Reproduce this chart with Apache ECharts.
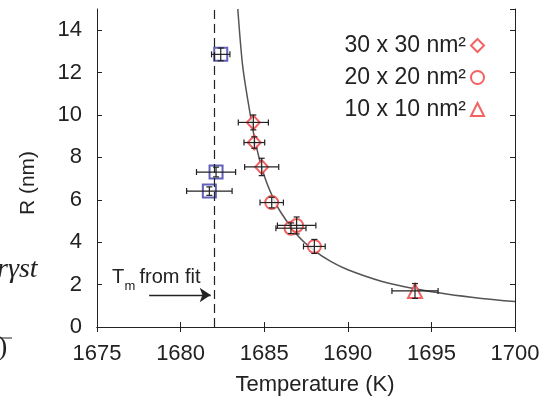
<!DOCTYPE html>
<html>
<head>
<meta charset="utf-8">
<script src="https://cdn.jsdelivr.net/npm/echarts@6/dist/echarts.min.js"></script>
<style>
  html, body { margin: 0; padding: 0; background: #fff; }
  #chart { width: 546px; height: 401px; }
</style>
</head>
<body>
<div id="chart"></div>
<script>
// squares (no legend entry)
const sqT = [1682.40, 1682.12, 1681.72]
const sqR = [12.86, 7.31, 6.41]
const sqTErr = [0.55, 1.17, 1.36]
const sqRErr = [0.30, 0.23, 0.20]

// 30 x 30 nm^2, diamonds
const dT = [1684.35, 1684.41, 1684.85]
const dR = [9.65, 8.70, 7.55]
const dTErr = [0.90, 0.62, 1.02]
const dRErr = [0.35, 0.27, 0.41]

// 20 x 20 nm^2, circles
const cT = [1685.45, 1686.60, 1686.94, 1688.00]
const cR = [5.87, 4.66, 4.79, 3.80]
const cTErr = [0.70, 0.90, 1.15, 0.65]
const cRErr = [0.25, 0.25, 0.40, 0.33]

// 10 x 10 nm^2, triangle
const tT = [1694.02]
const tR = [1.70]
const tTErr = [1.38]
const tRErr = [0.35]

// fit curve
const fitT = [1683.42, 1683.7, 1684, 1684.5, 1685, 1685.5, 1686, 1687, 1688, 1689, 1690, 1692, 1694, 1696, 1698, 1700]
const fitR = [15.0, 12.4, 10.8, 8.6, 7.15, 6.15, 5.4, 4.32, 3.6, 3.08, 2.7, 2.16, 1.8, 1.54, 1.35, 1.2]

const xTicks = [1675, 1680, 1685, 1690, 1695, 1700]
const yTicks = [0, 2, 4, 6, 8, 10, 12, 14]
const legendNames = ['30 x 30 nm²', '20 x 20 nm²', '10 x 10 nm²']

const tmFit = 1682
const arrowFrom = [1678.12, 1.51]
const arrowTo = [1681.80, 1.51]

const red = '#f03c3c'
const blue = '#3a3aa8'
const ink = '#222'
const font = 'Liberation Sans'

const zip = (a, b) => a.map((v, i) => [v, b[i]])
const errRows = (T, R, eT, eR) => T.map((v, i) => [v, R[i], eT[i], eR[i]])
const errData = [].concat(
  errRows(sqT, sqR, sqTErr, sqRErr),
  errRows(dT, dR, dTErr, dRErr),
  errRows(cT, cR, cTErr, cRErr),
  errRows(tT, tR, tTErr, tRErr)
)

function renderErr (params, api) {
  const x = api.value(0), y = api.value(1), ex = api.value(2), ey = api.value(3)
  const l = api.coord([x - ex, y]), r = api.coord([x + ex, y])
  const b = api.coord([x, y - ey]), t = api.coord([x, y + ey])
  const cap = 3
  const st = { stroke: ink, lineWidth: 1.2 }
  const ln = (x1, y1, x2, y2) => ({ type: 'line', shape: { x1, y1, x2, y2 }, style: st })
  return {
    type: 'group',
    children: [
      ln(l[0], l[1], r[0], r[1]),
      ln(l[0], l[1] - cap, l[0], l[1] + cap),
      ln(r[0], r[1] - cap, r[0], r[1] + cap),
      ln(b[0], b[1], t[0], t[1]),
      ln(b[0] - cap, b[1], b[0] + cap, b[1]),
      ln(t[0] - cap, t[1], t[0] + cap, t[1])
    ]
  }
}

const axisCommon = {
  type: 'value',
  axisLine: { show: true, lineStyle: { color: ink, width: 1 } },
  axisTick: { show: true, inside: true, length: 5, lineStyle: { color: ink } },
  splitLine: { show: false }
}

const chart = echarts.init(document.getElementById('chart'))
chart.setOption({
  animation: false,
  backgroundColor: '#fff',
  grid: { left: 97, right: 31, top: 9, bottom: 70 },
  textStyle: { fontFamily: font },
  xAxis: [
    Object.assign({}, axisCommon, {
      min: xTicks[0], max: xTicks[xTicks.length - 1], interval: 5,
      name: 'Temperature (K)', nameLocation: 'middle', nameGap: 47,
      nameTextStyle: { fontSize: 22, color: ink, fontFamily: font, padding: [0, 0, 0, 18] },
      axisLabel: { fontSize: 22, color: ink, margin: 16, fontFamily: font, formatter: v => String(v) }
    }),
    Object.assign({}, axisCommon, {
      position: 'top', min: xTicks[0], max: xTicks[xTicks.length - 1], interval: 5,
      axisLabel: { show: false }
    })
  ],
  yAxis: [
    Object.assign({}, axisCommon, {
      min: 0, max: 15, interval: 2,
      axisLabel: { fontSize: 22, color: ink, margin: 15, showMaxLabel: false, fontFamily: font }
    }),
    Object.assign({}, axisCommon, {
      position: 'right', min: 0, max: 15, interval: 2,
      axisLabel: { show: false }
    })
  ],
  legend: {
    data: legendNames,
    orient: 'vertical',
    right: 56,
    top: 29,
    align: 'right',
    itemGap: 9,
    itemWidth: 13,
    itemHeight: 13,
    textStyle: { fontSize: 23, color: ink, fontFamily: font }
  },
  series: [
    {
      type: 'line',
      data: zip(fitT, fitR),
      smooth: 0.3,
      symbol: 'none',
      lineStyle: { color: '#555', width: 1.5 },
      z: 1,
      markLine: {
        silent: true,
        animation: false,
        label: { show: false },
        data: [
          [
            { coord: [tmFit, 0], symbol: 'none', lineStyle: { color: ink, width: 1.2, type: [9, 5] } },
            { coord: [tmFit, 15], symbol: 'none' }
          ],
          [
            { coord: arrowFrom, symbol: 'none', lineStyle: { color: ink, width: 1.3, type: 'solid' } },
            { coord: arrowTo, symbol: 'arrow', symbolSize: 11 }
          ]
        ]
      }
    },
    {
      type: 'scatter', data: zip(sqT, sqR), symbol: 'emptyRect', symbolSize: 13,
      itemStyle: { color: blue, borderColor: blue, borderWidth: 1.3 }, z: 2
    },
    {
      name: legendNames[0], type: 'scatter', data: zip(dT, dR), symbol: 'emptyDiamond', symbolSize: [13, 14],
      itemStyle: { color: red, borderColor: red, borderWidth: 1.3 }, z: 2
    },
    {
      name: legendNames[1], type: 'scatter', data: zip(cT, cR), symbol: 'emptyCircle', symbolSize: 13,
      itemStyle: { color: red, borderColor: red, borderWidth: 1.3 }, z: 2
    },
    {
      name: legendNames[2], type: 'scatter', data: zip(tT, tR), symbol: 'emptyTriangle', symbolSize: 14,
      itemStyle: { color: red, borderColor: red, borderWidth: 1.3 }, z: 2
    },
    {
      type: 'custom', data: errData, renderItem: renderErr,
      encode: { x: 0, y: 1 }, z: 3, silent: true
    }
  ],
  graphic: [
    {
      type: 'text', x: 28, y: 183, rotation: Math.PI / 2,
      style: { text: 'R (nm)', font: '21px Liberation Sans', fill: ink, align: 'center', verticalAlign: 'middle' }
    },
    { type: 'text', x: 112, y: 277, style: { text: 'T', font: '20px Liberation Sans', fill: ink, verticalAlign: 'middle' } },
    { type: 'text', x: 124.5, y: 286.5, style: { text: 'm', font: '13px Liberation Sans', fill: ink, verticalAlign: 'middle' } },
    { type: 'text', x: 139.5, y: 277, style: { text: 'from fit', font: '20px Liberation Sans', fill: ink, verticalAlign: 'middle' } },
    { type: 'text', left: -3, top: 256, style: { text: 'rγst', font: 'italic 28px Liberation Serif', fill: ink } },
    { type: 'text', left: -2, top: 334, style: { text: ')', font: '28px Liberation Serif', fill: ink } },
    { type: 'line', shape: { x1: 0, y1: 338, x2: 12, y2: 338 }, style: { stroke: ink, lineWidth: 1 } }
  ]
})
</script>
</body>
</html>
